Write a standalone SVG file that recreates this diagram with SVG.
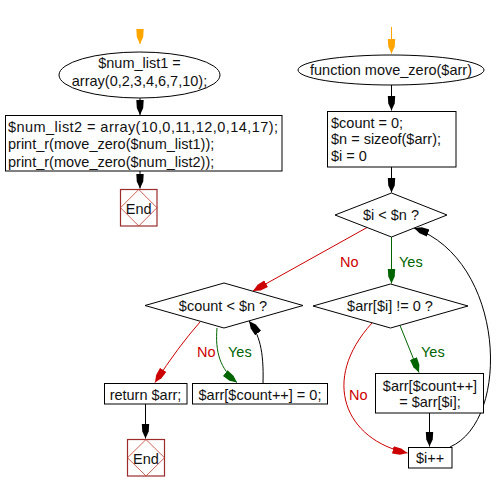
<svg xmlns="http://www.w3.org/2000/svg" width="500" height="492" viewBox="0 0 500 492">
<style>
text{font-family:"Liberation Sans",Arial,sans-serif;font-size:14.5px;fill:#111}
.c{text-anchor:middle}
.shape{fill:#fff;stroke:#000;stroke-width:1}
.endbox{fill:#fff;stroke:#9b2c2c;stroke-width:1.2}
.endd{fill:none;stroke:#c0392b;stroke-width:0.8}
.ln{fill:none;stroke:#000;stroke-width:1}
.red{fill:none;stroke:#cc0000;stroke-width:1}
.grn{fill:none;stroke:#006400;stroke-width:1}
.org{fill:none;stroke:#ffa500;stroke-width:1}
.lr{fill:#cc0000}
.lg{fill:#006400}
</style>
<defs>
<marker id="ab" markerUnits="userSpaceOnUse" markerWidth="16" markerHeight="10" refX="15" refY="5" orient="auto"><path d="M0,1.3 L8,1.8 L15,5 L8,8.2 L0,8.7 z" fill="#000"/></marker>
<marker id="ar" markerUnits="userSpaceOnUse" markerWidth="16" markerHeight="10" refX="15" refY="5" orient="auto"><path d="M0,1.3 L8,1.8 L15,5 L8,8.2 L0,8.7 z" fill="#cc0000"/></marker>
<marker id="ag" markerUnits="userSpaceOnUse" markerWidth="16" markerHeight="10" refX="15" refY="5" orient="auto"><path d="M0,1.3 L8,1.8 L15,5 L8,8.2 L0,8.7 z" fill="#006400"/></marker>
<marker id="ao" markerUnits="userSpaceOnUse" markerWidth="16" markerHeight="10" refX="15" refY="5" orient="auto"><path d="M0,1.3 L8,1.8 L15,5 L8,8.2 L0,8.7 z" fill="#ffa500"/></marker>
</defs>

<g id="connectors">
<path class="org" d="M140,29 L140,44" marker-end="url(#ao)"/>
<path class="ln" d="M140,98 L140,115" marker-end="url(#ab)"/>
<path class="ln" d="M140,171 L140,188.5" marker-end="url(#ab)"/>
<path class="org" d="M391.5,27 L391.5,53.5" marker-end="url(#ao)"/>
<path class="ln" d="M391.5,85 L391.5,110.5" marker-end="url(#ab)"/>
<path class="ln" d="M391.5,167 L391.5,192.5" marker-end="url(#ab)"/>
<path class="red" d="M367,227.5 L253,291" marker-end="url(#ar)"/>
<path class="grn" d="M391.5,237 L391.5,283.5" marker-end="url(#ag)"/>
<path class="red" d="M200,322 Q178,347 155,382.5" marker-end="url(#ar)"/>
<path class="grn" d="M217,328 C215,352 220,369 237,382.5" marker-end="url(#ag)"/>
<path class="ln" d="M263,383 C264,350 259,334 249,321" marker-end="url(#ab)"/>
<path class="ln" d="M145.5,404 L145.5,438.5" marker-end="url(#ab)"/>
<path class="grn" d="M400,325.5 L419,372.5" marker-end="url(#ag)"/>
<path class="red" d="M372,323 C320,380 345,440 407.5,453" marker-end="url(#ar)"/>
<path class="ln" d="M429.5,413 L429.5,446.5" marker-end="url(#ab)"/>
<path class="ln" d="M450,447 C512,420 505,260 414,228" marker-end="url(#ab)"/>
<text class="lr" x="340" y="266.5">No</text>
<text class="lg" x="399" y="266.5">Yes</text>
<text class="lr" x="197" y="357">No</text>
<text class="lg" x="228" y="357">Yes</text>
<text class="lg" x="421" y="357">Yes</text>
<text class="lr" x="349" y="400">No</text>
</g>

<g id="start1">
<ellipse class="shape" cx="139.5" cy="75" rx="80.5" ry="23"/>
<text class="c" x="139.5" y="68">$num_list1 =</text>
<text class="c" x="139.5" y="85.5">array(0,2,3,4,6,7,10);</text>
</g>

<g id="main">
<rect class="shape" x="5.5" y="115.5" width="276.5" height="55.5"/>
<text x="8" y="131.5" textLength="270" lengthAdjust="spacing">$num_list2 = array(10,0,11,12,0,14,17);</text>
<text x="8" y="149">print_r(move_zero($num_list1));</text>
<text x="8" y="166.5">print_r(move_zero($num_list2));</text>
</g>

<g id="end1">
<rect class="endbox" x="120.5" y="189.5" width="36.5" height="36.5"/>
<path class="endd" d="M138.75,189.5 L157,207.75 L138.75,226 L120.5,207.75 z"/>
<text class="c" x="138.75" y="213.5">End</text>
</g>

<g id="func">
<ellipse class="shape" cx="391" cy="70" rx="93" ry="15"/>
<text class="c" x="391" y="75">function move_zero($arr)</text>
</g>

<g id="init">
<rect class="shape" x="327.5" y="111.5" width="128.5" height="55.5"/>
<text x="331" y="127.5">$count = 0;</text>
<text x="331" y="144">$n = sizeof($arr);</text>
<text x="331" y="160.5">$i = 0</text>
</g>

<g id="cond_i">
<polygon class="shape" points="391.5,193 447,215 391.5,237 335,215"/>
<text class="c" x="391" y="220">$i &lt; $n ?</text>
</g>

<g id="cond_count">
<polygon class="shape" points="224,283 303,305.5 224,328 145,305.5"/>
<text class="c" x="223" y="311">$count &lt; $n ?</text>
</g>

<g id="cond_arr">
<polygon class="shape" points="390.5,284 468,306 390.5,328 313,306"/>
<text class="c" x="390" y="311">$arr[$i] != 0 ?</text>
</g>

<g id="ret">
<rect class="shape" x="104.5" y="383.5" width="82.5" height="20.5"/>
<text class="c" x="145.5" y="399.5">return $arr;</text>
</g>

<g id="fill0">
<rect class="shape" x="192.5" y="383.5" width="135" height="20.5"/>
<text class="c" x="260" y="399.5">$arr[$count++] = 0;</text>
</g>

<g id="assign">
<rect class="shape" x="375.5" y="373.5" width="108" height="39.5"/>
<text class="c" x="430" y="391">$arr[$count++]</text>
<text class="c" x="430" y="406.5">= $arr[$i];</text>
</g>

<g id="inc">
<rect class="shape" x="408.5" y="447.5" width="43.5" height="20.5"/>
<text class="c" x="430" y="463">$i++</text>
</g>

<g id="end2">
<rect class="endbox" x="127.5" y="439.5" width="37" height="36.5"/>
<path class="endd" d="M146,439.5 L164.5,457.75 L146,476 L127.5,457.75 z"/>
<text class="c" x="146" y="464">End</text>
</g>
</svg>
